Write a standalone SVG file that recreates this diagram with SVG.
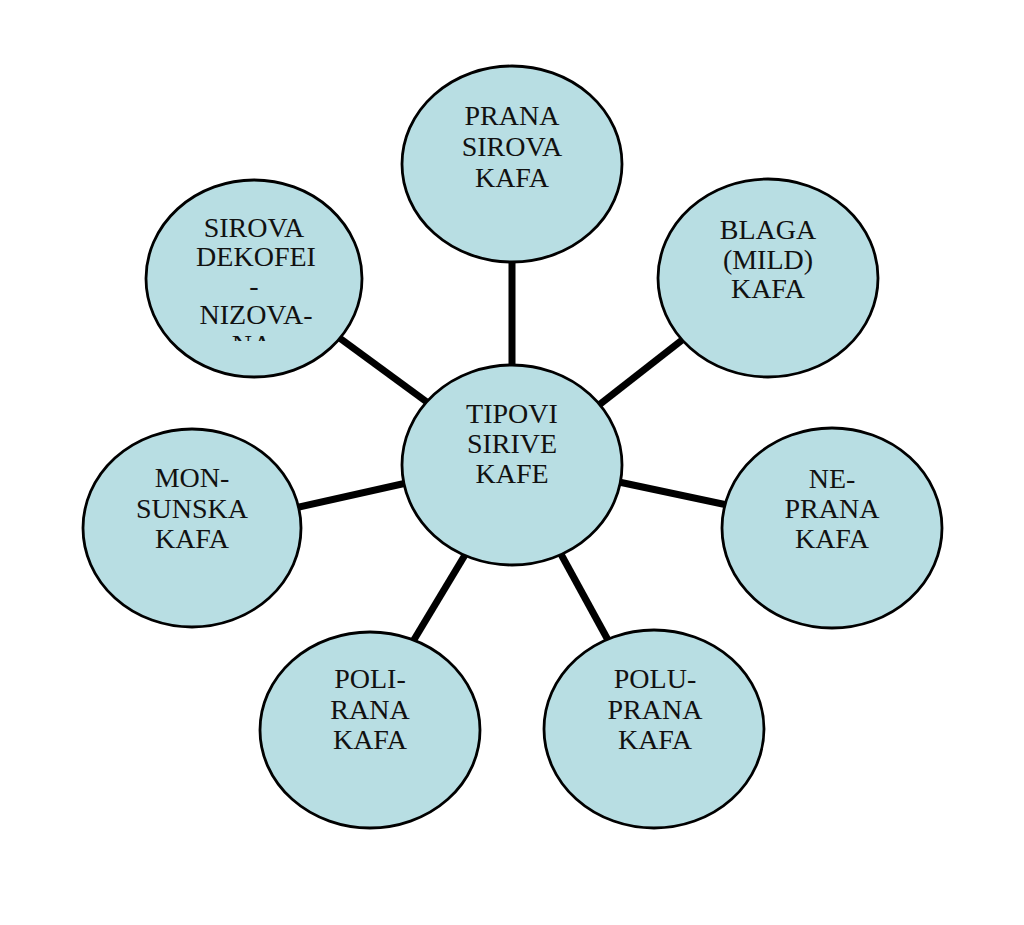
<svg xmlns="http://www.w3.org/2000/svg" width="1024" height="925" viewBox="0 0 1024 925">
<defs>
<style>
.node ellipse{fill:#b8dee3;stroke:#000;stroke-width:2.8}
.node text{font-family:"Liberation Serif","Times New Roman",serif;font-size:28px;fill:#111;text-anchor:middle}
#connectors line{stroke:#000;stroke-width:7;stroke-linecap:butt}
</style>
<clipPath id="clipSirova"><rect x="140" y="170" width="240" height="171"/></clipPath>
</defs>
<rect width="1024" height="925" fill="#fff"/>
<g id="connectors">
<line x1="512" y1="250" x2="512" y2="380"/>
<line x1="590" y1="412" x2="700" y2="326"/>
<line x1="600" y1="478" x2="760" y2="512"/>
<line x1="545" y1="525" x2="620" y2="662"/>
<line x1="480" y1="530" x2="400" y2="663"/>
<line x1="440" y1="475.5" x2="250" y2="518"/>
<line x1="450" y1="419" x2="300" y2="309"/>
</g>
<g id="node-center" class="node">
<ellipse cx="512" cy="465" rx="110" ry="100"/>
<text x="512" y="423">TIPOVI</text>
<text x="512" y="453">SIRIVE</text>
<text x="512" y="483">KAFE</text>
</g>
<g id="node-prana-sirova" class="node">
<ellipse cx="512" cy="164" rx="110" ry="98"/>
<text x="512" y="125">PRANA</text>
<text x="512" y="156">SIROVA</text>
<text x="512" y="187">KAFA</text>
</g>
<g id="node-blaga" class="node">
<ellipse cx="768" cy="278" rx="110" ry="99"/>
<text x="768" y="239">BLAGA</text>
<text x="768" y="269">(MILD)</text>
<text x="768" y="298">KAFA</text>
</g>
<g id="node-neprana" class="node">
<ellipse cx="832" cy="528" rx="110" ry="100"/>
<text x="832" y="488">NE-</text>
<text x="832" y="518">PRANA</text>
<text x="832" y="548">KAFA</text>
</g>
<g id="node-poluprana" class="node">
<ellipse cx="654" cy="729" rx="110" ry="99"/>
<text x="655" y="688">POLU-</text>
<text x="655" y="719">PRANA</text>
<text x="655" y="749">KAFA</text>
</g>
<g id="node-polirana" class="node">
<ellipse cx="370" cy="730" rx="110" ry="98"/>
<text x="370" y="688">POLI-</text>
<text x="370" y="719">RANA</text>
<text x="370" y="749">KAFA</text>
</g>
<g id="node-monsunska" class="node">
<ellipse cx="192" cy="528" rx="109" ry="99"/>
<text x="192" y="487">MON-</text>
<text x="192" y="518">SUNSKA</text>
<text x="192" y="548">KAFA</text>
</g>
<g id="node-sirova-dekofei" class="node">
<ellipse cx="254" cy="278.5" rx="108" ry="98.5"/>
<g clip-path="url(#clipSirova)">
<text x="254" y="237">SIROVA</text>
<text x="256" y="266">DEKOFEI</text>
<text x="254" y="295">-</text>
<text x="256" y="324">NIZOVA-</text>
<text x="252" y="354">NA</text>
</g>
</g>
</svg>
